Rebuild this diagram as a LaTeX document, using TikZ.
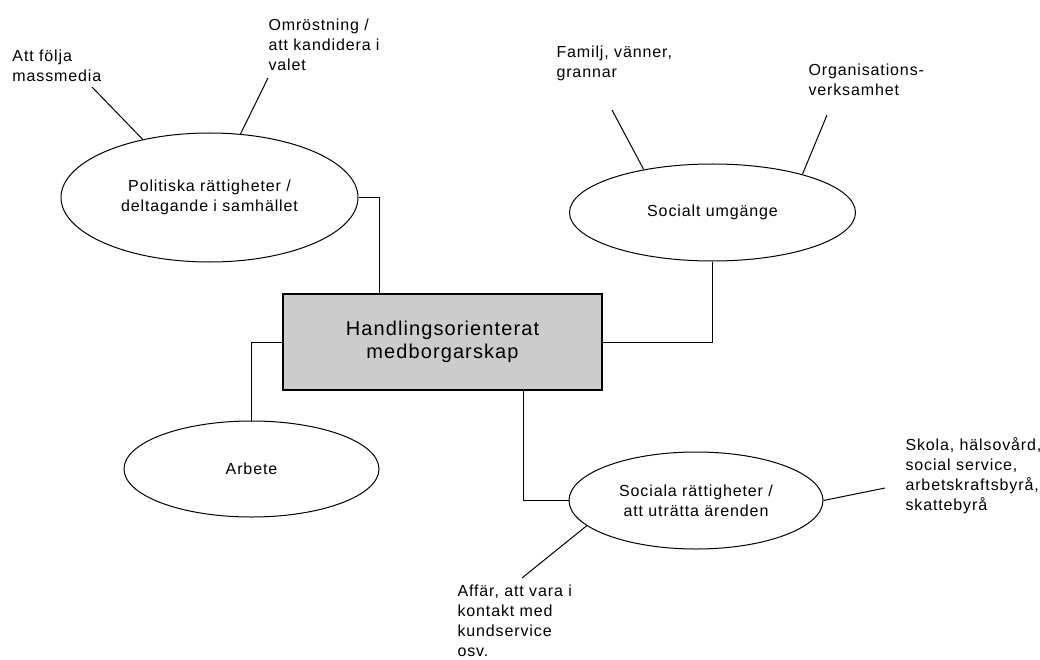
\documentclass[tikz,border=0pt]{standalone}
\usepackage{fontspec}
\setmainfont{Liberation Sans}[LetterSpace=5.5]
\usetikzlibrary{shapes.geometric}
\definecolor{boxgray}{RGB}{204,204,204}
\newcommand{\stackL}[1]{\vtop{\baselineskip=20pt\lineskiplimit=-10pt\halign{##\hfil\cr#1\crcr}}}
\begin{document}
\begin{tikzpicture}[x=1pt,y=-1pt,line width=1pt,
  ell/.style={draw, ellipse, inner sep=0pt, align=center, font=\fontsize{16}{20}\selectfont},
  lbl/.style={inner sep=0pt, anchor=base west, font=\fontsize{16}{20}\selectfont},
  hubbox/.style={draw, fill=boxgray, line width=1.2pt, inner sep=0pt, align=center, font=\fontsize{20}{23}\selectfont}]
\useasboundingbox (0,0) rectangle (1040,660);
% central box
\node[hubbox, minimum width=319pt, minimum height=96pt] (hub) at (442.5,342) {Handlingsorienterat\\medborgarskap};
% ellipses
\node[ell, minimum width=297pt, minimum height=129pt] (pol) at (209.5,197.5) {Politiska rättigheter /\\deltagande i samhället};
\node[ell, minimum width=286pt, minimum height=97pt] (soc) at (712.5,212.5) {Socialt umgänge};
\node[ell, minimum width=255pt, minimum height=96pt] (arb) at (251.5,469) {Arbete};
\node[ell, minimum width=254pt, minimum height=97pt] (sr) at (696,500.5) {Sociala rättigheter /\\att uträtta ärenden};
% connectors to hub
\draw (pol.east) -| ([xshift=-63.5pt]hub.north);
\draw (hub.west) -| (arb.north);
\draw (hub.east) -| (soc.south);
\draw ([xshift=80.5pt]hub.south) |- (sr.west);
% labels
\node[lbl] (lmass) at (12,62) {\stackL{Att följa\cr massmedia}};
\node[lbl] (lomr) at (268,31) {\stackL{Omröstning /\cr att kandidera i\cr valet}};
\node[lbl] (lfam) at (556,58) {\stackL{Familj, vänner,\cr grannar}};
\node[lbl] (lorg) at (808,76) {\stackL{Organisations-\cr verksamhet}};
\node[lbl] (lsko) at (905,450) {\stackL{Skola, hälsovård,\cr social service,\cr arbetskraftsbyrå,\cr skattebyrå}};
\node[lbl] (laff) at (457,596) {\stackL{Affär, att vara i\cr kontakt med\cr kundservice\cr osv.}};
% label lines
\coordinate (m1) at (92,87);
\coordinate (o1) at (268,78);
\coordinate (f1) at (612,110);
\coordinate (g1) at (827,115);
\coordinate (s1) at (885,488);
\coordinate (a1) at (522,578);
\draw (m1) -- (pol.139.7);
\draw (o1) -- (pol.64.3);
\draw (f1) -- (soc.148.1);
\draw (g1) -- (soc.23.6);
\draw (sr.east) -- (s1);
\draw (a1) -- (sr.193.7);
\end{tikzpicture}
\end{document}
